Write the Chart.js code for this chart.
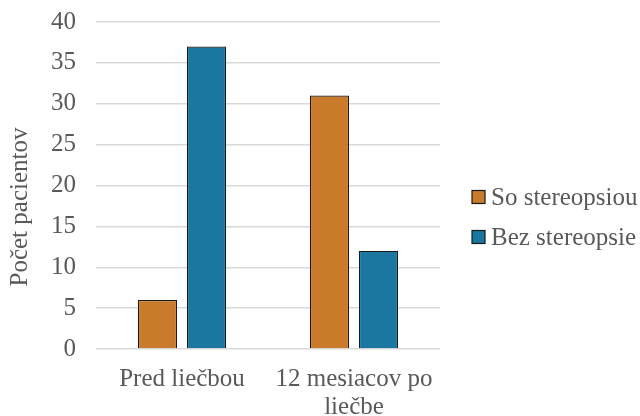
<!DOCTYPE html>
<html><head><meta charset="utf-8">
<script src="https://cdn.jsdelivr.net/npm/chart.js@4/dist/chart.umd.min.js"></script>
<style>html,body{margin:0;padding:0;background:#fff}#wrap{width:640px;height:416px}</style>
</head><body><div id="wrap"><canvas id="c" width="640" height="416"></canvas></div>
<script>
const categories = ['Pred liečbou', ['12 mesiacov po', 'liečbe']];
const seriesNames = ['So stereopsiou', 'Bez stereopsie'];
const soStereopsiou = [6, 31];
const bezStereopsie = [37, 12];
const yTitle = 'Počet pacientov';

const font = 'Liberation Serif';
const txt = '#595959';

const extras = {
  id: 'extras',
  afterDraw(chart) {
    const ctx = chart.ctx;
    ctx.save();
    // y-axis title
    ctx.save();
    ctx.translate(20, 207);
    ctx.rotate(-Math.PI / 2);
    ctx.font = '25px "' + font + '"';
    ctx.fillStyle = txt;
    ctx.textAlign = 'center';
    ctx.textBaseline = 'middle';
    ctx.fillText(yTitle, 0, 0);
    ctx.restore();
    // legend
    const lx = chart.chartArea.right + 32;
    const ly0 = 197, step = 40, box = 13;
    ctx.font = '25px "' + font + '"';
    ctx.textBaseline = 'middle';
    ctx.textAlign = 'left';
    chart.data.datasets.forEach((ds, i) => {
      const cy = ly0 + i * step;
      ctx.fillStyle = ds.backgroundColor;
      ctx.fillRect(lx, cy - box / 2, box, box);
      ctx.strokeStyle = '#1a1a1a';
      ctx.lineWidth = 1.2;
      ctx.strokeRect(lx, cy - box / 2, box, box);
      ctx.fillStyle = txt;
      ctx.fillText(ds.label, lx + box + 6, cy + 1);
    });
    ctx.restore();
  }
};

new Chart(document.getElementById('c'), {
  type: 'bar',
  data: {
    labels: categories,
    datasets: [
      {label: seriesNames[0], data: soStereopsiou, backgroundColor: '#C97A2A', borderColor: '#1a1a1a', borderWidth: 1.2},
      {label: seriesNames[1], data: bezStereopsie, backgroundColor: '#1B77A0', borderColor: '#1a1a1a', borderWidth: 1.2}
    ]
  },
  plugins: [extras],
  options: {
    responsive: false,
    animation: false,
    layout: {padding: {left: 0, right: 200, top: 22, bottom: 0}},
    datasets: {bar: {categoryPercentage: 0.57, barPercentage: 0.8}},
    plugins: {
      legend: {display: false},
      tooltip: {enabled: false}
    },
    scales: {
      x: {
        grid: {display: false},
        border: {display: false},
        afterFit(s) { s.height = 67; s.paddingLeft = 0; s.paddingRight = 0; },
        ticks: {font: {family: font, size: 25, lineHeight: 1.12}, color: txt, padding: 8, maxRotation: 0, autoSkip: false}
      },
      y: {
        min: 0, max: 40,
        afterFit(s) { s.width = 96; s.paddingTop = 0; s.paddingBottom = 0; },
        ticks: {stepSize: 5, font: {family: font, size: 25}, color: txt, padding: 20},
        grid: {color: '#d9d9d9', lineWidth: 1.5, drawTicks: false},
        border: {display: false}
      }
    }
  }
});
</script></body></html>
